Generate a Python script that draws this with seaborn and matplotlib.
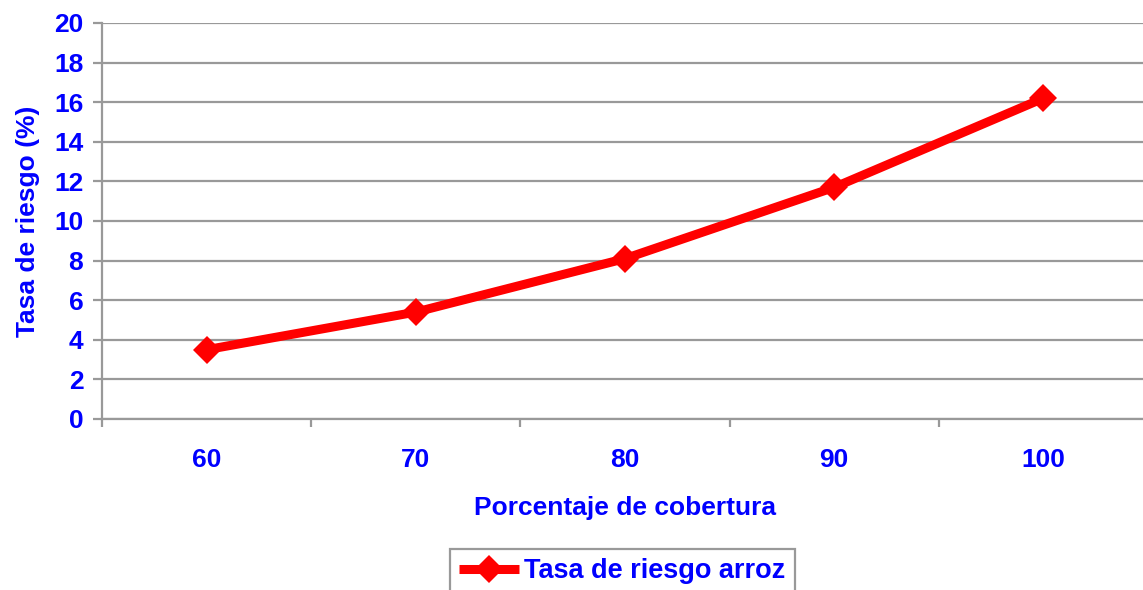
import pandas as pd
import seaborn as sns
import matplotlib.pyplot as plt

cobertura = ["60", "70", "80", "90", "100"]
tasa_riesgo = [3.5, 5.4, 8.1, 11.7, 16.2]
serie = "Tasa de riesgo arroz"

sns.set_theme(style="white")
plt.rcParams['font.family'] = ['Liberation Sans', 'DejaVu Sans']
plt.rcParams['font.weight'] = 'bold'

blue = "#0000FF"
grey = "#999999"

df = pd.DataFrame({"cobertura": cobertura, "tasa": tasa_riesgo})

fig = plt.figure(figsize=(11.43, 5.90), dpi=100)
ax = fig.add_axes([102/1143, 171/590, 1046/1143, 396/590])

sns.lineplot(data=df, x="cobertura", y="tasa", ax=ax, color="#FF0000",
             linewidth=6.5, marker="D", markersize=14, markeredgewidth=0,
             solid_capstyle="butt", label=serie, sort=False)

ax.set_xlim(-0.5, 4.5)
ax.set_ylim(0, 20)
ax.set_yticks(range(0, 21, 2))
ax.set_xticks(range(len(cobertura)))
ax.set_xticks([i - 0.5 for i in range(len(cobertura) + 1)], minor=True)
ax.set_xticklabels(cobertura)

ax.grid(axis="y", color=grey, linewidth=1.6)
ax.set_axisbelow(True)
for s in ["top", "right"]:
    ax.spines[s].set_visible(False)
for s in ["left", "bottom"]:
    ax.spines[s].set_color(grey)
    ax.spines[s].set_linewidth(1.6)

ax.tick_params(axis="y", which="major", left=True, length=6.5, width=1.6,
               color=grey, pad=7, labelsize=19, labelcolor=blue)
ax.tick_params(axis="x", which="major", bottom=False, length=0, pad=21,
               labelsize=19, labelcolor=blue)
ax.tick_params(axis="x", which="minor", bottom=True, length=6, width=1.6,
               color=grey, direction="out")
for lab in ax.get_xticklabels() + ax.get_yticklabels():
    lab.set_fontweight("bold")

ax.set_xlabel("Porcentaje de cobertura", fontsize=19, fontweight="bold",
              color=blue, labelpad=17)
ax.set_ylabel("Tasa de riesgo (%)", fontsize=19, fontweight="bold",
              color=blue, labelpad=10)

ax.get_legend().remove()
h, l = ax.get_legend_handles_labels()
leg = fig.legend(h, l, loc="upper left", bbox_to_anchor=(450/1143, 1 - 549/590),
                 borderaxespad=0, fontsize=19.5, frameon=True, fancybox=False,
                 handlelength=2.2, handletextpad=0.2, borderpad=0.35,
                 edgecolor=grey, framealpha=1)
leg.get_frame().set_linewidth(1.6)
for t in leg.get_texts():
    t.set_color(blue)
    t.set_fontweight("bold")

fig.savefig("out.png", dpi=100)
